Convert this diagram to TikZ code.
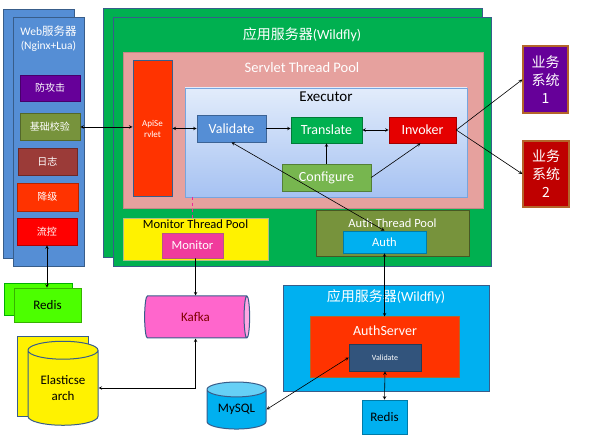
\documentclass[tikz,border=0pt]{standalone}
\usepackage{fontspec}
\setmainfont{Carlito}
\newfontfamily\cjk{Noto Sans CJK SC}
\usetikzlibrary{shapes.geometric,arrows}

\definecolor{frame}{HTML}{385D8A}
\definecolor{webblue}{HTML}{558ED5}
\definecolor{appgreen}{HTML}{00B050}
\definecolor{poolpink}{HTML}{E6A19E}
\definecolor{apired}{HTML}{FF3300}
\definecolor{olive}{HTML}{77933C}
\definecolor{skyblue}{HTML}{00B0F0}
\definecolor{bsbrown}{HTML}{B4652A}
\definecolor{logred}{HTML}{9B3B38}
\definecolor{exectop}{HTML}{E2ECFB}
\definecolor{execbot}{HTML}{A6C2F2}
\definecolor{kafkapink}{HTML}{FF66CC}
\definecolor{kafkaend}{HTML}{FFA8E4}

\tikzset{
	box/.style={draw=frame, line width=1pt, inner sep=0pt},
	btn/.style={fill=#1, draw=#1!70!black, line width=0.6pt, inner sep=0pt, text=white},
	wtxt/.style={inner sep=0pt, text=white, font=\fontsize{13}{15}\selectfont},
	btxt/.style={inner sep=0pt, text=black, font=\fontsize{13}{15}\selectfont},
	db/.style={cylinder, draw=frame, line width=1pt, inner sep=0pt, cylinder uses custom fill},
	link/.style={black, line width=0.6pt}
}

\begin{document}
\begin{tikzpicture}[x=1pt,y=-1pt,>=stealth]
	\useasboundingbox (0,0) rectangle (590,438);
	% web server
	\node[box, fill=webblue, minimum width=71, minimum height=249] (webback) at (38.5,134.5) {};
	\node[box, fill=webblue, minimum width=71, minimum height=249] (web) at (48.5,142.5) {};
	\node[wtxt, align=center, font=\fontsize{11.5}{14}\selectfont] (webt) at (48.5,39) {Web{\cjk 服务器}\\(Nginx+Lua)};
	\node[btn=violet!80!blue, minimum width=60, minimum height=26, font=\cjk\fontsize{10}{12}\selectfont] (attack) at (50,88) {防攻击};
	\node[btn=olive, minimum width=60, minimum height=27, font=\cjk\fontsize{10}{12}\selectfont] (check) at (50,127) {基础校验};
	\node[btn=logred, minimum width=59, minimum height=27, font=\cjk\fontsize{10}{12}\selectfont] (logbox) at (47.5,161.5) {日志};
	\node[btn=apired, minimum width=61, minimum height=28, font=\cjk\fontsize{10}{12}\selectfont] (degrade) at (47.5,197) {降级};
	\node[btn=red, minimum width=60, minimum height=27, font=\cjk\fontsize{10}{12}\selectfont] (limit) at (47,231.5) {流控};
	% app server
	\node[box, fill=appgreen, minimum width=379, minimum height=249] (appback) at (292.5,133.5) {};
	\node[box, fill=appgreen, minimum width=378, minimum height=249] (app) at (302,142.5) {};
	\node[wtxt, font=\fontsize{14}{16}\selectfont] (appt) at (302,35) {{\cjk 应用服务器}(Wildfly)};
	\node[fill=poolpink, draw=poolpink!85!black, line width=0.6pt, minimum width=360, minimum height=156] (spool) at (303,130) {};
	\node[wtxt, font=\fontsize{14.5}{16}\selectfont] (spoolt) at (302,68) {Servlet Thread Pool};
	\node[box, fill=apired, minimum width=39, minimum height=136, text=white, align=center, font=\fontsize{9}{11}\selectfont] (api) at (152.5,129) {ApiSe\\rvlet};
	\node[draw=webblue!80, line width=0.6pt, top color=exectop, bottom color=execbot, minimum width=282, minimum height=109] (exec) at (326,142.5) {};
	\node[btxt, font=\fontsize{15}{17}\selectfont] (exect) at (326,97) {Executor};
	\node[btn=webblue, minimum width=69, minimum height=27, font=\fontsize{14}{16}\selectfont] (val) at (231.5,128.5) {Validate};
	\node[btn=appgreen, minimum width=71, minimum height=26, font=\fontsize{14}{16}\selectfont] (trans) at (326.5,130) {Translate};
	\node[btn=red!90!black, minimum width=67, minimum height=26, font=\fontsize{14}{16}\selectfont] (inv) at (422.5,130) {Invoker};
	\node[btn=olive!80!green!85!white, minimum width=89, minimum height=27, font=\fontsize{14}{16}\selectfont] (conf) at (326.5,177.5) {Configure};
	\node[fill=yellow, draw=olive!60, line width=0.6pt, minimum width=145, minimum height=42] (mpool) at (195.5,239) {};
	\node[btxt, font=\fontsize{12.5}{15}\selectfont] (mpoolt) at (195.5,224.5) {Monitor Thread Pool};
	\node[btn=magenta!70!pink, minimum width=61, minimum height=25, font=\fontsize{12.5}{15}\selectfont] (mon) at (192.5,245.5) {Monitor};
	\node[fill=olive, draw=olive!60!black, line width=0.6pt, minimum width=153, minimum height=46] (apool) at (392.5,233) {};
	\node[wtxt, font=\fontsize{12.5}{15}\selectfont] (apoolt) at (392.5,223) {Auth Thread Pool};
	\node[btn=skyblue, minimum width=83, minimum height=22, font=\fontsize{12.5}{15}\selectfont] (auth) at (384.5,242) {Auth};
	% business systems
	\node[fill=violet!80!blue, draw=bsbrown, line width=1.2pt, minimum width=45, minimum height=67, text=white, align=center, font=\cjk\fontsize{14}{18}\selectfont] (bs1) at (545.5,79.5) {业务\\系统\\1};
	\node[fill=red!75!black, draw=bsbrown, line width=1.2pt, minimum width=46, minimum height=66, text=white, align=center, font=\cjk\fontsize{14}{18}\selectfont] (bs2) at (546,174) {业务\\系统\\2};
	% storage
	\node[fill=green!60!lime, draw=green!70!black, line width=0.6pt, minimum width=68, minimum height=32] (redisback) at (38,299) {};
	\node[btn=green!60!lime, text=black, minimum width=67, minimum height=34, font=\fontsize{13}{15}\selectfont] (redis) at (47.5,305) {Redis};
	\node[db, cylinder body fill=kafkapink, cylinder end fill=kafkaend, aspect=0.6, minimum width=42, minimum height=105, text=red!50!black, font=\fontsize{13}{15}\selectfont] (kafka) at (195.5,317) {Kafka};
	\node[db, shape border rotate=90, cylinder body fill=yellow, cylinder end fill=yellow, aspect=0.4, minimum width=71, minimum height=80] (esback) at (52.5,377) {};
	\node[db, shape border rotate=90, cylinder body fill=yellow, cylinder end fill=yellow, aspect=0.4, minimum width=70, minimum height=84, align=center, font=\fontsize{13}{16}\selectfont] (es) at (63,388) {Elasticse\\arch};
	\node[db, shape border rotate=90, cylinder body fill=skyblue, cylinder end fill=skyblue!60!white, aspect=0.4, minimum width=59, minimum height=47, font=\fontsize{13}{15}\selectfont] (mysql) at (236.5,409.5) {MySQL};
	% auth server
	\node[box, fill=skyblue, minimum width=206, minimum height=106] (asrv) at (386,339) {};
	\node[wtxt, font=\fontsize{14}{16}\selectfont] (asrvt) at (386,297) {{\cjk 应用服务器}(Wildfly)};
	\node[fill=apired, draw=bsbrown, line width=1pt, minimum width=149, minimum height=61] (authsrv) at (384.5,347.5) {};
	\node[wtxt, font=\fontsize{14}{16}\selectfont] (authsrvt) at (385,331) {AuthServer};
	\node[btn=frame!90!black, minimum width=72, minimum height=27, font=\fontsize{8}{10}\selectfont] (val2) at (385,357.5) {Validate};
	\node[btn=skyblue, text=black, minimum width=45, minimum height=34, font=\fontsize{13}{15}\selectfont] (redis2) at (384.5,417) {Redis};
	% links
	\draw[link,<->] (check.east) -- (check.east -| api.west);
	\draw[link,<->] (api.east |- val.west) -- (val.west);
	\draw[link,->] (val.east) -- (trans.west |- val.east);
	\draw[link,<->] (trans) -- (inv);
	\draw[link,->] (conf) -- (trans);
	\draw[link,->] (conf.east) -- ([xshift=-2]inv.south);
	\draw[link,->] (inv.east) -- (bs1.west);
	\draw[link,->] (inv.east) -- (bs2.west);
	\draw[link,<->] (val.south) -- (auth.north);
	\draw[magenta!80!pink, line width=1.2pt, dashed] (exec.south -| mon) -- (mpool.north -| mon);
	\draw[link,<->] (limit.south) -- (limit.south |- redis.north);
	\draw[link,->] (mon.south -| kafka) -- (kafka.north);
	\draw[link,<->] (kafka.south) |- (es.east);
	\draw[link,<->] (auth.south) -- (auth.south |- authsrv.north);
	\draw[link,<->] (val2.west) -- (mysql.east);
	\draw[link,<->] (val2.south) -- (redis2.north);
\end{tikzpicture}
\end{document}
